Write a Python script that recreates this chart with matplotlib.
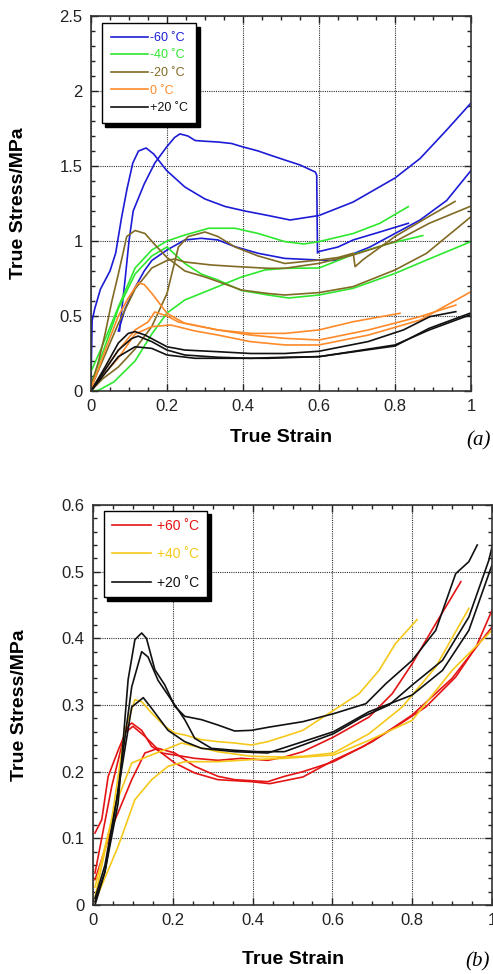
import matplotlib
matplotlib.use("Agg")
import matplotlib.pyplot as plt
from matplotlib.ticker import MultipleLocator, FuncFormatter

# ---------------- Panel (a) data : true strain / true stress (MPa) -------------
# -60 C
m60_1_x = [0.0, 0.003, 0.01, 0.025, 0.05, 0.065, 0.08, 0.095, 0.11, 0.125, 0.145, 0.165, 0.199, 0.247, 0.30, 0.353, 0.405, 0.466, 0.524, 0.60, 0.69, 0.80, 0.866, 0.936, 1.0]
m60_1_y = [0.08, 0.47, 0.55, 0.68, 0.80, 0.92, 1.15, 1.35, 1.52, 1.60, 1.62, 1.58, 1.47, 1.36, 1.28, 1.23, 1.20, 1.17, 1.14, 1.17, 1.26, 1.42, 1.55, 1.74, 1.92]
m60_2_x = [0.075, 0.09, 0.10, 0.111, 0.14, 0.168, 0.20, 0.22, 0.234, 0.255, 0.274, 0.30, 0.334, 0.37, 0.396, 0.44, 0.471, 0.51, 0.55, 0.59, 0.594, 0.596, 0.60, 0.65, 0.69, 0.76, 0.835]
m60_2_y = [0.40, 0.75, 1.00, 1.20, 1.38, 1.52, 1.63, 1.69, 1.714, 1.70, 1.67, 1.665, 1.66, 1.65, 1.63, 1.60, 1.573, 1.54, 1.507, 1.46, 1.44, 0.92, 0.93, 0.96, 1.007, 1.06, 1.118]
m60_3_x = [0.072, 0.09, 0.116, 0.14, 0.16, 0.20, 0.247, 0.29, 0.334, 0.379, 0.44, 0.51, 0.60, 0.647, 0.734, 0.80, 0.866, 0.936, 1.0]
m60_3_y = [0.40, 0.55, 0.69, 0.80, 0.87, 0.94, 1.007, 1.018, 1.007, 0.962, 0.918, 0.884, 0.873, 0.87, 0.96, 1.05, 1.14, 1.27, 1.47]
# -40 C
m40_1_x = [0.0, 0.028, 0.072, 0.116, 0.16, 0.20, 0.247, 0.31, 0.379, 0.44, 0.51, 0.56, 0.60, 0.69, 0.76, 0.835]
m40_1_y = [0.13, 0.29, 0.56, 0.82, 0.94, 1.00, 1.04, 1.085, 1.085, 1.05, 0.996, 0.98, 0.996, 1.05, 1.118, 1.229]
m40_2_x = [0.0, 0.03, 0.072, 0.116, 0.16, 0.20, 0.247, 0.29, 0.334, 0.396, 0.466, 0.52, 0.60, 0.69, 0.80, 0.883, 1.0]
m40_2_y = [0.05, 0.25, 0.55, 0.78, 0.90, 0.96, 0.85, 0.78, 0.74, 0.67, 0.64, 0.62, 0.64, 0.685, 0.784, 0.873, 0.996]
m40_3_x = [0.0, 0.02, 0.06, 0.116, 0.16, 0.20, 0.247, 0.334, 0.396, 0.458, 0.51, 0.60, 0.69, 0.78, 0.873]
m40_3_y = [0.0, 0.005, 0.06, 0.20, 0.38, 0.52, 0.607, 0.696, 0.76, 0.807, 0.818, 0.82, 0.91, 0.98, 1.036]
# -20 C
m20_1_x = [0.0, 0.02, 0.037, 0.055, 0.072, 0.094, 0.116, 0.142, 0.17, 0.20, 0.247, 0.30, 0.334, 0.396, 0.466, 0.51, 0.60, 0.69, 0.80, 0.883, 1.0]
m20_1_y = [0.03, 0.20, 0.38, 0.60, 0.78, 1.03, 1.07, 1.05, 0.97, 0.89, 0.80, 0.76, 0.73, 0.673, 0.65, 0.64, 0.656, 0.696, 0.807, 0.918, 1.162]
m20_2_x = [0.0, 0.03, 0.072, 0.116, 0.16, 0.20, 0.23, 0.256, 0.30, 0.334, 0.379, 0.44, 0.51, 0.60, 0.65, 0.69, 0.695, 0.717, 0.80, 0.88, 0.958]
m20_2_y = [0.0, 0.08, 0.16, 0.28, 0.43, 0.65, 0.96, 1.03, 1.06, 1.03, 0.96, 0.90, 0.85, 0.873, 0.89, 0.918, 0.829, 0.878, 1.03, 1.15, 1.264]
m20_3_x = [0.0, 0.03, 0.072, 0.116, 0.16, 0.20, 0.22, 0.247, 0.317, 0.379, 0.466, 0.51, 0.60, 0.69, 0.80, 0.89, 1.0]
m20_3_y = [0.02, 0.20, 0.45, 0.68, 0.82, 0.87, 0.88, 0.86, 0.84, 0.83, 0.818, 0.818, 0.851, 0.907, 0.996, 1.118, 1.233]
# 0 C
p0_1_x = [0.0, 0.02, 0.037, 0.072, 0.098, 0.124, 0.14, 0.16, 0.20, 0.247, 0.334, 0.42, 0.51, 0.60, 0.69, 0.813]
p0_1_y = [0.02, 0.15, 0.27, 0.50, 0.62, 0.72, 0.71, 0.651, 0.518, 0.451, 0.407, 0.384, 0.384, 0.407, 0.462, 0.518]
p0_2_x = [0.0, 0.03, 0.072, 0.116, 0.15, 0.168, 0.20, 0.23, 0.334, 0.42, 0.51, 0.60, 0.73, 0.866, 0.96]
p0_2_y = [0.01, 0.12, 0.27, 0.407, 0.46, 0.527, 0.50, 0.46, 0.407, 0.373, 0.351, 0.34, 0.407, 0.496, 0.573]
p0_3_x = [0.0, 0.03, 0.072, 0.116, 0.16, 0.21, 0.274, 0.334, 0.42, 0.51, 0.60, 0.73, 0.866, 1.0]
p0_3_y = [0.0, 0.10, 0.22, 0.38, 0.429, 0.44, 0.40, 0.373, 0.329, 0.307, 0.307, 0.373, 0.473, 0.662]
# +20 C
p20_1_x = [0.0, 0.037, 0.072, 0.098, 0.116, 0.142, 0.20, 0.247, 0.334, 0.42, 0.51, 0.60, 0.73, 0.822, 0.892, 0.96]
p20_1_y = [0.0, 0.16, 0.32, 0.384, 0.396, 0.373, 0.295, 0.273, 0.262, 0.25, 0.25, 0.265, 0.33, 0.407, 0.496, 0.529]
p20_2_x = [0.0, 0.072, 0.107, 0.124, 0.16, 0.20, 0.247, 0.334, 0.42, 0.51, 0.60, 0.80, 0.89, 0.997]
p20_2_y = [0.0, 0.273, 0.35, 0.366, 0.329, 0.273, 0.24, 0.225, 0.218, 0.225, 0.229, 0.307, 0.407, 0.507]
p20_3_x = [0.0, 0.072, 0.116, 0.16, 0.20, 0.274, 0.334, 0.466, 0.60, 0.80, 0.89, 0.997]
p20_3_y = [0.0, 0.229, 0.295, 0.284, 0.24, 0.218, 0.218, 0.218, 0.229, 0.30, 0.418, 0.518]

# ---------------- Panel (b) data ----------------------------------------------
# +60 C
b60_1_x = [0.005, 0.022, 0.038, 0.063, 0.088, 0.097, 0.122, 0.147, 0.172, 0.205, 0.255, 0.313, 0.372, 0.438, 0.48, 0.526, 0.603, 0.692, 0.75, 0.80, 0.859, 0.922]
b60_1_y = [0.108, 0.128, 0.193, 0.232, 0.268, 0.273, 0.262, 0.238, 0.228, 0.225, 0.22, 0.217, 0.22, 0.217, 0.222, 0.23, 0.252, 0.282, 0.317, 0.362, 0.422, 0.485]
b60_2_x = [0.005, 0.047, 0.08, 0.10, 0.13, 0.172, 0.205, 0.255, 0.313, 0.397, 0.443, 0.526, 0.603, 0.675, 0.758, 0.834, 0.909, 0.96, 1.0]
b60_2_y = [0.048, 0.178, 0.258, 0.268, 0.253, 0.228, 0.213, 0.198, 0.188, 0.185, 0.182, 0.192, 0.217, 0.237, 0.267, 0.297, 0.342, 0.387, 0.442]
b60_3_x = [0.005, 0.05, 0.097, 0.13, 0.163, 0.205, 0.255, 0.313, 0.355, 0.438, 0.48, 0.526, 0.603, 0.70, 0.80, 0.90, 1.0]
b60_3_y = [0.038, 0.12, 0.188, 0.228, 0.235, 0.228, 0.208, 0.193, 0.188, 0.185, 0.193, 0.20, 0.215, 0.245, 0.285, 0.34, 0.417]
# +40 C
b40_1_x = [0.005, 0.047, 0.08, 0.105, 0.122, 0.147, 0.18, 0.205, 0.23, 0.272, 0.313, 0.355, 0.397, 0.438, 0.48, 0.526, 0.603, 0.667, 0.717, 0.758, 0.812]
b40_1_y = [0.012, 0.128, 0.262, 0.308, 0.305, 0.288, 0.268, 0.258, 0.255, 0.248, 0.245, 0.243, 0.24, 0.245, 0.253, 0.262, 0.292, 0.317, 0.352, 0.392, 0.428]
b40_2_x = [0.005, 0.055, 0.097, 0.138, 0.18, 0.222, 0.255, 0.313, 0.397, 0.48, 0.526, 0.603, 0.692, 0.775, 0.859, 0.942]
b40_2_y = [0.027, 0.148, 0.213, 0.223, 0.233, 0.243, 0.238, 0.23, 0.223, 0.222, 0.223, 0.228, 0.257, 0.297, 0.357, 0.445]
b40_3_x = [0.005, 0.063, 0.105, 0.147, 0.188, 0.23, 0.313, 0.397, 0.48, 0.603, 0.692, 0.80, 0.90, 1.0]
b40_3_y = [0.005, 0.088, 0.158, 0.188, 0.208, 0.215, 0.215, 0.218, 0.22, 0.225, 0.247, 0.277, 0.352, 0.412]
# +20 C
b20_1_x = [0.005, 0.03, 0.063, 0.088, 0.105, 0.122, 0.134, 0.155, 0.18, 0.205, 0.23, 0.272, 0.313, 0.355, 0.397, 0.443, 0.526, 0.603, 0.684, 0.734, 0.80, 0.859, 0.909, 0.942, 0.963]
b20_1_y = [0.005, 0.05, 0.153, 0.338, 0.398, 0.408, 0.40, 0.353, 0.33, 0.298, 0.283, 0.278, 0.27, 0.261, 0.262, 0.267, 0.275, 0.287, 0.302, 0.332, 0.367, 0.412, 0.497, 0.515, 0.54]
b20_2_x = [0.005, 0.03, 0.06, 0.097, 0.122, 0.138, 0.163, 0.205, 0.23, 0.255, 0.297, 0.355, 0.413, 0.48, 0.526, 0.603, 0.675, 0.742, 0.80, 0.876, 0.942, 0.992, 1.0]
b20_2_y = [0.0, 0.05, 0.16, 0.327, 0.38, 0.372, 0.337, 0.30, 0.278, 0.25, 0.235, 0.232, 0.23, 0.23, 0.24, 0.257, 0.282, 0.30, 0.33, 0.367, 0.432, 0.517, 0.537]
b20_3_x = [0.005, 0.03, 0.06, 0.097, 0.126, 0.147, 0.188, 0.23, 0.272, 0.355, 0.438, 0.526, 0.603, 0.692, 0.80, 0.876, 0.942, 1.0]
b20_3_y = [0.01, 0.06, 0.16, 0.297, 0.311, 0.295, 0.262, 0.245, 0.235, 0.23, 0.228, 0.245, 0.26, 0.29, 0.315, 0.352, 0.412, 0.51]

labels_a = ["-60 \u02daC", "-40 \u02daC", "-20 \u02daC", "0 \u02daC", "+20 \u02daC"]
colors_a = ["#1c1cd6", "#2ee82e", "#806a24", "#ff8a2a", "#111111"]
series_a = [
    [(m60_1_x, m60_1_y), (m60_2_x, m60_2_y), (m60_3_x, m60_3_y)],
    [(m40_1_x, m40_1_y), (m40_2_x, m40_2_y), (m40_3_x, m40_3_y)],
    [(m20_1_x, m20_1_y), (m20_2_x, m20_2_y), (m20_3_x, m20_3_y)],
    [(p0_1_x, p0_1_y), (p0_2_x, p0_2_y), (p0_3_x, p0_3_y)],
    [(p20_1_x, p20_1_y), (p20_2_x, p20_2_y), (p20_3_x, p20_3_y)],
]
labels_b = ["+60 \u02daC", "+40 \u02daC", "+20 \u02daC"]
colors_b = ["#e41414", "#f6c81a", "#111111"]
series_b = [
    [(b60_1_x, b60_1_y), (b60_2_x, b60_2_y), (b60_3_x, b60_3_y)],
    [(b40_1_x, b40_1_y), (b40_2_x, b40_2_y), (b40_3_x, b40_3_y)],
    [(b20_1_x, b20_1_y), (b20_2_x, b20_2_y), (b20_3_x, b20_3_y)],
]

plt.rcParams['font.family'] = ['Liberation Sans', 'DejaVu Sans']

W, H = 493, 974
fig = plt.figure(figsize=(W / 100, H / 100), dpi=100)

def px_axes(l, t, r, b):
    return fig.add_axes([l / W, 1 - b / H, (r - l) / W, (b - t) / H])

ax1 = px_axes(91, 16, 471, 391)
ax2 = px_axes(93, 505, 492, 905)

fmt = FuncFormatter(lambda v, p: "%g" % round(v, 3))

def style(ax, ymax, ymaj, ymin):
    ax.set_xlim(0, 1)
    ax.set_ylim(0, ymax)
    ax.xaxis.set_major_locator(MultipleLocator(0.2))
    ax.xaxis.set_minor_locator(MultipleLocator(0.05))
    ax.yaxis.set_major_locator(MultipleLocator(ymaj))
    ax.yaxis.set_minor_locator(MultipleLocator(ymin))
    ax.xaxis.set_major_formatter(fmt)
    ax.yaxis.set_major_formatter(fmt)
    ax.tick_params(which='both', direction='in', top=True, right=True,
                   labelsize=12, colors='#222222', width=1.0)
    ax.tick_params(which='major', length=5, pad=6)
    ax.tick_params(which='minor', length=3)
    ax.grid(True, which='major', linestyle=(0, (1, 1)), color='#333333', linewidth=0.8)
    for sp in ax.spines.values():
        sp.set_linewidth(1.2)
        sp.set_color('#333333')
    ax.set_axisbelow(True)

style(ax1, 2.5, 0.5, 0.1)
style(ax2, 0.6, 0.1, 0.02)

for ax, series, colors, labels in [(ax1, series_a, colors_a, labels_a), (ax2, series_b, colors_b, labels_b)]:
    for curves, c, lab in zip(series, colors, labels):
        for i, (xs, ys) in enumerate(curves):
            ax.plot(xs, ys, color=c, lw=1.2, label=lab if i == 0 else None)

leg1 = ax1.legend(loc='upper left', bbox_to_anchor=(0.029, 0.981), borderaxespad=0,
                  fontsize=9, handlelength=3.0, handletextpad=0.1, labelspacing=0.45,
                  fancybox=False, edgecolor='black', framealpha=1,
                  shadow={'color': 'black', 'alpha': 1, 'ox': 2.5, 'oy': -2.5},
                  labelcolor=colors_a, borderpad=0.7)
leg1.get_frame().set_linewidth(1.0)
leg2 = ax2.legend(loc='upper left', bbox_to_anchor=(0.0275, 0.985), borderaxespad=0,
                  fontsize=10, handlelength=2.8, handletextpad=0.5, labelspacing=1.05,
                  fancybox=False, edgecolor='black', framealpha=1,
                  shadow={'color': 'black', 'alpha': 1, 'ox': 2.5, 'oy': -2.5},
                  labelcolor=colors_b, borderpad=0.55)
leg2.get_frame().set_linewidth(1.0)

fig.text(19 / W, 1 - 203 / H, "True Stress/MPa", rotation=90, ha='center', va='center',
         fontsize=14, fontweight='bold')
fig.text(20 / W, 1 - 705 / H, "True Stress/MPa", rotation=90, ha='center', va='center',
         fontsize=14, fontweight='bold')
fig.text(281 / W, 1 - 437 / H, "True Strain", ha='center', va='center',
         fontsize=14, fontweight='bold')
fig.text(293 / W, 1 - 959 / H, "True Strain", ha='center', va='center',
         fontsize=14, fontweight='bold')
fig.text(491 / W, 1 - 441 / H, "(a)", ha='right', va='center', fontsize=15,
         family=['Liberation Serif', 'DejaVu Serif'], style='italic')
fig.text(490 / W, 1 - 962 / H, "(b)", ha='right', va='center', fontsize=15,
         family=['Liberation Serif', 'DejaVu Serif'], style='italic')

fig.savefig("out.png", dpi=100)
